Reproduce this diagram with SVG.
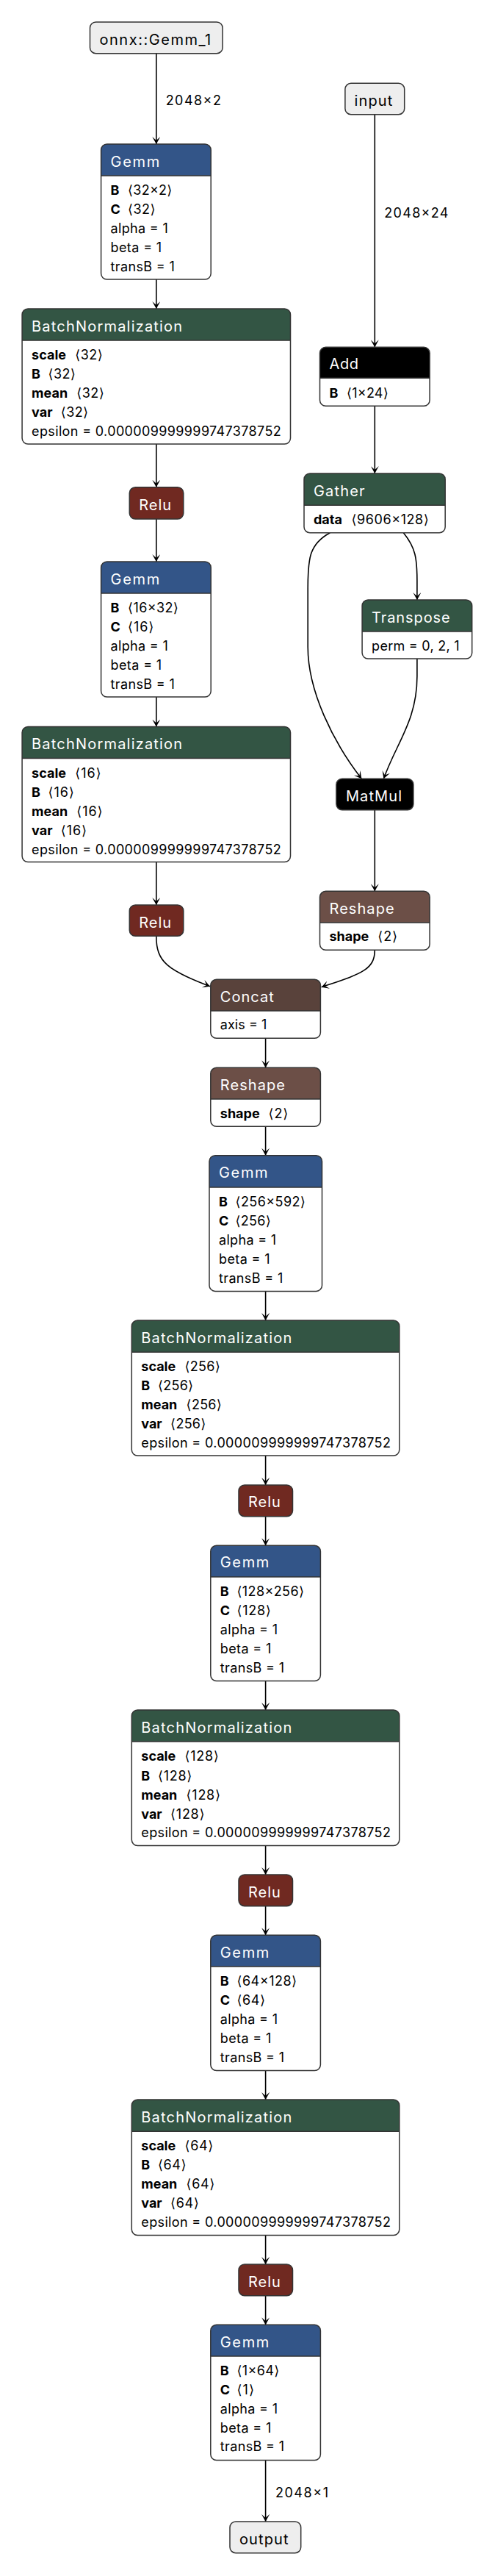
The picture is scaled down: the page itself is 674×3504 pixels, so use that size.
<svg xmlns="http://www.w3.org/2000/svg" width="674" height="3504" viewBox="0 0 674 3504">
<style>
.bg{fill:#fff}
.body{fill:#fff;stroke:none}
.brd{fill:none;stroke:#333;stroke-width:1.5}
.sep{stroke:#333;stroke-width:1.5}
.io{fill:#eee;stroke:#333;stroke-width:1.5}
.layer{fill:#335588}
.norm{fill:#335544}
.act{fill:#702921}
.shape{fill:#6C4F47}
.tensor{fill:#59423B}
.def{fill:#000}
.ht{font-family:Inter,"Liberation Sans",sans-serif;font-size:20px;fill:#fff}
.it{font-family:Inter,"Liberation Sans",sans-serif;font-size:20px;fill:#000}
.at{font-family:Inter,"Liberation Sans","DejaVu Sans",sans-serif;font-size:18px;fill:#000}
.k{font-family:Inter,"Liberation Sans",sans-serif;font-size:18px;fill:#000;font-weight:bold}
.el{font-family:Inter,"Liberation Sans",sans-serif;font-size:18px;fill:#000}
.edge{fill:none;stroke:#000;stroke-width:1.6;marker-end:url(#arr)}
</style>
<defs>
<marker id="arr" markerUnits="userSpaceOnUse" viewBox="0 0 10 11" refX="10" refY="5.5" markerWidth="10" markerHeight="11" orient="auto">
<path d="M0,0 L10,5.5 L0,11 L5,5.5 Z" fill="#000"/>
</marker>
</defs>
<rect class="bg" x="0" y="0" width="674" height="3504"/>

<g id="edges">
<path class="edge" d="M212.8,72.7 V196"/>
<path class="edge" d="M212.8,380 V420"/>
<path class="edge" d="M212.8,604 V662.7"/>
<path class="edge" d="M212.8,706 V764"/>
<path class="edge" d="M212.8,948 V988.5"/>
<path class="edge" d="M212.8,1172.5 V1231"/>
<path class="edge" d="M212.8,1274 C212.8,1308 228,1320 285.9,1341.7"/>
<path class="edge" d="M510.3,155.7 V472.3"/>
<path class="edge" d="M510.3,552.3 V644"/>
<path class="edge" d="M549.4,724.7 C566,745 567.9,760 567.9,790 V816"/>
<path class="edge" d="M449.3,724.7 C421,740 419.2,760 419.2,800 V880 C419.2,940 453.5,1009.3 492.3,1059.3"/>
<path class="edge" d="M567.9,896 V920 C567.9,980 540,1010 522.4,1059.3"/>
<path class="edge" d="M510.3,1101.7 V1212.3"/>
<path class="edge" d="M510.3,1292.3 C510.3,1320 490,1325 437.7,1342.7"/>
<path class="edge" d="M361.6,1412.3 V1452.3"/>
<path class="edge" d="M361.6,1532.3 V1571.7"/>
<path class="edge" d="M361.6,1756.4 V1796"/>
<path class="edge" d="M361.6,1980 V2020"/>
<path class="edge" d="M361.6,2062.7 V2102.3"/>
<path class="edge" d="M361.6,2286.6 V2326"/>
<path class="edge" d="M361.6,2510.5 V2550"/>
<path class="edge" d="M361.6,2592.7 V2632.3"/>
<path class="edge" d="M361.6,2816.6 V2856"/>
<path class="edge" d="M361.6,3040.5 V3080"/>
<path class="edge" d="M361.6,3122.7 V3162.3"/>
<path class="edge" d="M361.6,3346.6 V3430"/>
<text class="el" x="225.7" y="142.7" textLength="75.2" lengthAdjust="spacing">2048×2</text>
<text class="el" x="523.2" y="296" textLength="87.3" lengthAdjust="spacing">2048×24</text>
<text class="el" x="374.9" y="3396.7" textLength="72.2" lengthAdjust="spacing">2048×1</text>
</g>

<g id="node-onnx-gemm-1">
<rect class="io" x="122.5" y="30" width="180.6" height="42.7" rx="8"/>
<text class="it" x="135.4" y="61" textLength="151.8" lengthAdjust="spacing">onnx::Gemm_1</text>
</g>

<g id="node-input">
<rect class="io" x="469.9" y="113.3" width="80.8" height="42.4" rx="8"/>
<text class="it" x="482.4" y="144" textLength="52" lengthAdjust="spacing">input</text>
</g>

<g id="node-gemm-1" transform="translate(137.6,196)">
<rect class="body" width="149.6" height="184" rx="8"/>
<path class="layer" d="M0,43 V8 A8,8 0 0 1 8,0 H141.6 A8,8 0 0 1 149.6,8 V43 Z"/>
<line class="sep" x1="0" y1="43" x2="149.6" y2="43"/>
<rect class="brd" width="149.6" height="184" rx="8"/>
<text class="ht" x="13" y="30.7" textLength="66.6" lengthAdjust="spacing">Gemm</text>
<text class="k" x="13" y="69">B</text><text class="at" x="36.5" y="69" textLength="60.2" lengthAdjust="spacing">⟨32×2⟩</text>
<text class="k" x="13" y="95">C</text><text class="at" x="36.5" y="95" textLength="37.4" lengthAdjust="spacing">⟨32⟩</text>
<text class="at" x="13" y="121" textLength="78.2" lengthAdjust="spacing">alpha = 1</text>
<text class="at" x="13" y="147" textLength="69.6" lengthAdjust="spacing">beta = 1</text>
<text class="at" x="13" y="173" textLength="87.3" lengthAdjust="spacing">transB = 1</text>
</g>

<g id="node-batchnorm-1" transform="translate(30.1,420)">
<rect class="body" width="365.4" height="184" rx="8"/>
<path class="norm" d="M0,43 V8 A8,8 0 0 1 8,0 H357.4 A8,8 0 0 1 365.4,8 V43 Z"/>
<line class="sep" x1="0" y1="43" x2="365.4" y2="43"/>
<rect class="brd" width="365.4" height="184" rx="8"/>
<text class="ht" x="13" y="30.7" textLength="205" lengthAdjust="spacing">BatchNormalization</text>
<text class="k" x="13" y="69">scale</text><text class="at" x="72.2" y="69" textLength="37.4" lengthAdjust="spacing">⟨32⟩</text>
<text class="k" x="13" y="95">B</text><text class="at" x="35.4" y="95" textLength="37.4" lengthAdjust="spacing">⟨32⟩</text>
<text class="k" x="13" y="121">mean</text><text class="at" x="74.2" y="121" textLength="37.4" lengthAdjust="spacing">⟨32⟩</text>
<text class="k" x="13" y="147">var</text><text class="at" x="52.6" y="147" textLength="37.4" lengthAdjust="spacing">⟨32⟩</text>
<text class="at" x="13" y="173" textLength="339.6" lengthAdjust="spacing">epsilon = 0.000009999999747378752</text>
</g>

<g id="node-relu-1" transform="translate(176.3,662.7)">
<rect class="act" width="73.5" height="43.3" rx="8"/>
<rect class="brd" width="73.5" height="43.3" rx="8"/>
<text class="ht" x="13" y="31.3" textLength="43.8" lengthAdjust="spacing">Relu</text>
</g>

<g id="node-gemm-2" transform="translate(137.6,764)">
<rect class="body" width="149.6" height="184" rx="8"/>
<path class="layer" d="M0,43 V8 A8,8 0 0 1 8,0 H141.6 A8,8 0 0 1 149.6,8 V43 Z"/>
<line class="sep" x1="0" y1="43" x2="149.6" y2="43"/>
<rect class="brd" width="149.6" height="184" rx="8"/>
<text class="ht" x="13" y="30.7" textLength="66.6" lengthAdjust="spacing">Gemm</text>
<text class="k" x="13" y="69">B</text><text class="at" x="36.5" y="69" textLength="68.8" lengthAdjust="spacing">⟨16×32⟩</text>
<text class="k" x="13" y="95">C</text><text class="at" x="36.5" y="95" textLength="35.3" lengthAdjust="spacing">⟨16⟩</text>
<text class="at" x="13" y="121" textLength="78.2" lengthAdjust="spacing">alpha = 1</text>
<text class="at" x="13" y="147" textLength="69.6" lengthAdjust="spacing">beta = 1</text>
<text class="at" x="13" y="173" textLength="87.3" lengthAdjust="spacing">transB = 1</text>
</g>

<g id="node-batchnorm-2" transform="translate(30.1,988.5)">
<rect class="body" width="365.4" height="184" rx="8"/>
<path class="norm" d="M0,43 V8 A8,8 0 0 1 8,0 H357.4 A8,8 0 0 1 365.4,8 V43 Z"/>
<line class="sep" x1="0" y1="43" x2="365.4" y2="43"/>
<rect class="brd" width="365.4" height="184" rx="8"/>
<text class="ht" x="13" y="30.7" textLength="205" lengthAdjust="spacing">BatchNormalization</text>
<text class="k" x="13" y="69">scale</text><text class="at" x="72.2" y="69" textLength="35.3" lengthAdjust="spacing">⟨16⟩</text>
<text class="k" x="13" y="95">B</text><text class="at" x="35.4" y="95" textLength="35.3" lengthAdjust="spacing">⟨16⟩</text>
<text class="k" x="13" y="121">mean</text><text class="at" x="74.2" y="121" textLength="35.3" lengthAdjust="spacing">⟨16⟩</text>
<text class="k" x="13" y="147">var</text><text class="at" x="52.6" y="147" textLength="35.3" lengthAdjust="spacing">⟨16⟩</text>
<text class="at" x="13" y="173" textLength="339.6" lengthAdjust="spacing">epsilon = 0.000009999999747378752</text>
</g>

<g id="node-relu-2" transform="translate(176.3,1231)">
<rect class="act" width="73.5" height="42.3" rx="8"/>
<rect class="brd" width="73.5" height="42.3" rx="8"/>
<text class="ht" x="13" y="30.7" textLength="43.8" lengthAdjust="spacing">Relu</text>
</g>

<g id="node-add" transform="translate(435.5,472.3)">
<rect class="body" width="149.6" height="80" rx="8"/>
<path class="def" d="M0,42 V8 A8,8 0 0 1 8,0 H141.6 A8,8 0 0 1 149.6,8 V42 Z"/>
<line class="sep" x1="0" y1="42" x2="149.6" y2="42"/>
<rect class="brd" width="149.6" height="80" rx="8"/>
<text class="ht" x="13" y="30" textLength="39.6" lengthAdjust="spacing">Add</text>
<text class="k" x="13" y="68.4">B</text><text class="at" x="36.5" y="68.4" textLength="56.7" lengthAdjust="spacing">⟨1×24⟩</text>
</g>

<g id="node-gather" transform="translate(414,644)">
<rect class="body" width="192.2" height="80.7" rx="8"/>
<path class="norm" d="M0,43.3 V8 A8,8 0 0 1 8,0 H184.2 A8,8 0 0 1 192.2,8 V43.3 Z"/>
<line class="sep" x1="0" y1="43.3" x2="192.2" y2="43.3"/>
<rect class="brd" width="192.2" height="80.7" rx="8"/>
<text class="ht" x="13" y="31" textLength="69.6" lengthAdjust="spacing">Gather</text>
<text class="k" x="13" y="69.3">data</text><text class="at" x="64.5" y="69.3" textLength="105.3" lengthAdjust="spacing">⟨9606×128⟩</text>
</g>

<g id="node-transpose" transform="translate(493.1,816)">
<rect class="body" width="149.6" height="80" rx="8"/>
<path class="norm" d="M0,43 V8 A8,8 0 0 1 8,0 H141.6 A8,8 0 0 1 149.6,8 V43 Z"/>
<line class="sep" x1="0" y1="43" x2="149.6" y2="43"/>
<rect class="brd" width="149.6" height="80" rx="8"/>
<text class="ht" x="13" y="30.7" textLength="106.6" lengthAdjust="spacing">Transpose</text>
<text class="at" x="13" y="69" textLength="119.5" lengthAdjust="spacing">perm = 0, 2, 1</text>
</g>

<g id="node-matmul" transform="translate(457.9,1059.3)">
<rect class="def" width="105" height="42.4" rx="8"/>
<rect class="brd" width="105" height="42.4" rx="8"/>
<text class="ht" x="13" y="30.7" textLength="76.1" lengthAdjust="spacing">MatMul</text>
</g>

<g id="node-reshape-1" transform="translate(435.5,1212.3)">
<rect class="body" width="149.6" height="80" rx="8"/>
<path class="shape" d="M0,42.7 V8 A8,8 0 0 1 8,0 H141.6 A8,8 0 0 1 149.6,8 V42.7 Z"/>
<line class="sep" x1="0" y1="42.7" x2="149.6" y2="42.7"/>
<rect class="brd" width="149.6" height="80" rx="8"/>
<text class="ht" x="13" y="30.4" textLength="88.1" lengthAdjust="spacing">Reshape</text>
<text class="k" x="13" y="67.7">shape</text><text class="at" x="78.8" y="67.7" textLength="26.7" lengthAdjust="spacing">⟨2⟩</text>
</g>

<g id="node-concat" transform="translate(286.8,1332.3)">
<rect class="body" width="149.6" height="80" rx="8"/>
<path class="tensor" d="M0,42.7 V8 A8,8 0 0 1 8,0 H141.6 A8,8 0 0 1 149.6,8 V42.7 Z"/>
<line class="sep" x1="0" y1="42.7" x2="149.6" y2="42.7"/>
<rect class="brd" width="149.6" height="80" rx="8"/>
<text class="ht" x="13" y="30.4" textLength="73" lengthAdjust="spacing">Concat</text>
<text class="at" x="13" y="67.7" textLength="63.6" lengthAdjust="spacing">axis = 1</text>
</g>

<g id="node-reshape-2" transform="translate(286.8,1452.3)">
<rect class="body" width="149.6" height="80" rx="8"/>
<path class="shape" d="M0,42.7 V8 A8,8 0 0 1 8,0 H141.6 A8,8 0 0 1 149.6,8 V42.7 Z"/>
<line class="sep" x1="0" y1="42.7" x2="149.6" y2="42.7"/>
<rect class="brd" width="149.6" height="80" rx="8"/>
<text class="ht" x="13" y="30.4" textLength="88.1" lengthAdjust="spacing">Reshape</text>
<text class="k" x="13" y="68.4">shape</text><text class="at" x="78.8" y="68.4" textLength="26.7" lengthAdjust="spacing">⟨2⟩</text>
</g>

<g id="node-gemm-3" transform="translate(285,1571.7)">
<rect class="body" width="153.5" height="184.7" rx="8"/>
<path class="layer" d="M0,43.3 V8 A8,8 0 0 1 8,0 H145.5 A8,8 0 0 1 153.5,8 V43.3 Z"/>
<line class="sep" x1="0" y1="43.3" x2="153.5" y2="43.3"/>
<rect class="brd" width="153.5" height="184.7" rx="8"/>
<text class="ht" x="13" y="30" textLength="66.6" lengthAdjust="spacing">Gemm</text>
<text class="k" x="13" y="69">B</text><text class="at" x="35.5" y="69" textLength="95.4" lengthAdjust="spacing">⟨256×592⟩</text>
<text class="k" x="13" y="95">C</text><text class="at" x="35.5" y="95" textLength="48.2" lengthAdjust="spacing">⟨256⟩</text>
<text class="at" x="13" y="121" textLength="78.2" lengthAdjust="spacing">alpha = 1</text>
<text class="at" x="13" y="147" textLength="69.6" lengthAdjust="spacing">beta = 1</text>
<text class="at" x="13" y="173" textLength="87.3" lengthAdjust="spacing">transB = 1</text>
</g>

<g id="node-batchnorm-3" transform="translate(179.3,1796)">
<rect class="body" width="364.5" height="184" rx="8"/>
<path class="norm" d="M0,43.3 V8 A8,8 0 0 1 8,0 H356.5 A8,8 0 0 1 364.5,8 V43.3 Z"/>
<line class="sep" x1="0" y1="43.3" x2="364.5" y2="43.3"/>
<rect class="brd" width="364.5" height="184" rx="8"/>
<text class="ht" x="13" y="30.7" textLength="205" lengthAdjust="spacing">BatchNormalization</text>
<text class="k" x="13" y="69">scale</text><text class="at" x="72.2" y="69" textLength="48.2" lengthAdjust="spacing">⟨256⟩</text>
<text class="k" x="13" y="95">B</text><text class="at" x="35.6" y="95" textLength="48.2" lengthAdjust="spacing">⟨256⟩</text>
<text class="k" x="13" y="121">mean</text><text class="at" x="74.3" y="121" textLength="48.2" lengthAdjust="spacing">⟨256⟩</text>
<text class="k" x="13" y="147">var</text><text class="at" x="52.8" y="147" textLength="48.2" lengthAdjust="spacing">⟨256⟩</text>
<text class="at" x="13" y="173" textLength="339.6" lengthAdjust="spacing">epsilon = 0.000009999999747378752</text>
</g>

<g id="node-relu-3" transform="translate(325,2020)">
<rect class="act" width="73.5" height="42.7" rx="8"/>
<rect class="brd" width="73.5" height="42.7" rx="8"/>
<text class="ht" x="13" y="30" textLength="43.8" lengthAdjust="spacing">Relu</text>
</g>

<g id="node-gemm-4" transform="translate(286.8,2102.3)">
<rect class="body" width="149.6" height="184.3" rx="8"/>
<path class="layer" d="M0,42.7 V8 A8,8 0 0 1 8,0 H141.6 A8,8 0 0 1 149.6,8 V42.7 Z"/>
<line class="sep" x1="0" y1="42.7" x2="149.6" y2="42.7"/>
<rect class="brd" width="149.6" height="184.3" rx="8"/>
<text class="ht" x="13" y="30" textLength="66.6" lengthAdjust="spacing">Gemm</text>
<text class="k" x="13" y="68.4">B</text><text class="at" x="35.6" y="68.4" textLength="91.6" lengthAdjust="spacing">⟨128×256⟩</text>
<text class="k" x="13" y="94.4">C</text><text class="at" x="35.6" y="94.4" textLength="46.4" lengthAdjust="spacing">⟨128⟩</text>
<text class="at" x="13" y="120.4" textLength="78.2" lengthAdjust="spacing">alpha = 1</text>
<text class="at" x="13" y="146.4" textLength="69.6" lengthAdjust="spacing">beta = 1</text>
<text class="at" x="13" y="172.4" textLength="87.3" lengthAdjust="spacing">transB = 1</text>
</g>

<g id="node-batchnorm-4" transform="translate(179.3,2326)">
<rect class="body" width="364.5" height="184.5" rx="8"/>
<path class="norm" d="M0,43 V8 A8,8 0 0 1 8,0 H356.5 A8,8 0 0 1 364.5,8 V43 Z"/>
<line class="sep" x1="0" y1="43" x2="364.5" y2="43"/>
<rect class="brd" width="364.5" height="184.5" rx="8"/>
<text class="ht" x="13" y="30.7" textLength="205" lengthAdjust="spacing">BatchNormalization</text>
<text class="k" x="13" y="69">scale</text><text class="at" x="72.2" y="69" textLength="46.4" lengthAdjust="spacing">⟨128⟩</text>
<text class="k" x="13" y="95.5">B</text><text class="at" x="35.6" y="95.5" textLength="46.4" lengthAdjust="spacing">⟨128⟩</text>
<text class="k" x="13" y="121.5">mean</text><text class="at" x="74.3" y="121.5" textLength="46.4" lengthAdjust="spacing">⟨128⟩</text>
<text class="k" x="13" y="147.5">var</text><text class="at" x="52.8" y="147.5" textLength="46.4" lengthAdjust="spacing">⟨128⟩</text>
<text class="at" x="13" y="173.3" textLength="339.6" lengthAdjust="spacing">epsilon = 0.000009999999747378752</text>
</g>

<g id="node-relu-4" transform="translate(325,2550)">
<rect class="act" width="73.5" height="42.7" rx="8"/>
<rect class="brd" width="73.5" height="42.7" rx="8"/>
<text class="ht" x="13" y="31" textLength="43.8" lengthAdjust="spacing">Relu</text>
</g>

<g id="node-gemm-5" transform="translate(286.8,2632.3)">
<rect class="body" width="149.6" height="184.3" rx="8"/>
<path class="layer" d="M0,42.7 V8 A8,8 0 0 1 8,0 H141.6 A8,8 0 0 1 149.6,8 V42.7 Z"/>
<line class="sep" x1="0" y1="42.7" x2="149.6" y2="42.7"/>
<rect class="brd" width="149.6" height="184.3" rx="8"/>
<text class="ht" x="13" y="31" textLength="66.6" lengthAdjust="spacing">Gemm</text>
<text class="k" x="13" y="68.4">B</text><text class="at" x="35.6" y="68.4" textLength="81.7" lengthAdjust="spacing">⟨64×128⟩</text>
<text class="k" x="13" y="94.4">C</text><text class="at" x="35.6" y="94.4" textLength="38.7" lengthAdjust="spacing">⟨64⟩</text>
<text class="at" x="13" y="120.4" textLength="78.2" lengthAdjust="spacing">alpha = 1</text>
<text class="at" x="13" y="146.4" textLength="69.6" lengthAdjust="spacing">beta = 1</text>
<text class="at" x="13" y="172.4" textLength="87.3" lengthAdjust="spacing">transB = 1</text>
</g>

<g id="node-batchnorm-5" transform="translate(179.3,2856)">
<rect class="body" width="364.5" height="184.5" rx="8"/>
<path class="norm" d="M0,43.3 V8 A8,8 0 0 1 8,0 H356.5 A8,8 0 0 1 364.5,8 V43.3 Z"/>
<line class="sep" x1="0" y1="43.3" x2="364.5" y2="43.3"/>
<rect class="brd" width="364.5" height="184.5" rx="8"/>
<text class="ht" x="13" y="30.7" textLength="205" lengthAdjust="spacing">BatchNormalization</text>
<text class="k" x="13" y="69">scale</text><text class="at" x="72.2" y="69" textLength="38.7" lengthAdjust="spacing">⟨64⟩</text>
<text class="k" x="13" y="95">B</text><text class="at" x="35.6" y="95" textLength="38.7" lengthAdjust="spacing">⟨64⟩</text>
<text class="k" x="13" y="121">mean</text><text class="at" x="74.3" y="121" textLength="38.7" lengthAdjust="spacing">⟨64⟩</text>
<text class="k" x="13" y="147">var</text><text class="at" x="52.8" y="147" textLength="38.7" lengthAdjust="spacing">⟨64⟩</text>
<text class="at" x="13" y="173" textLength="339.6" lengthAdjust="spacing">epsilon = 0.000009999999747378752</text>
</g>

<g id="node-relu-5" transform="translate(325,3080)">
<rect class="act" width="73.5" height="42.7" rx="8"/>
<rect class="brd" width="73.5" height="42.7" rx="8"/>
<text class="ht" x="13" y="30.7" textLength="43.8" lengthAdjust="spacing">Relu</text>
</g>

<g id="node-gemm-6" transform="translate(286.8,3162.3)">
<rect class="body" width="149.6" height="184.3" rx="8"/>
<path class="layer" d="M0,42.7 V8 A8,8 0 0 1 8,0 H141.6 A8,8 0 0 1 149.6,8 V42.7 Z"/>
<line class="sep" x1="0" y1="42.7" x2="149.6" y2="42.7"/>
<rect class="brd" width="149.6" height="184.3" rx="8"/>
<text class="ht" x="13" y="30.4" textLength="66.6" lengthAdjust="spacing">Gemm</text>
<text class="k" x="13" y="68.7">B</text><text class="at" x="35.6" y="68.7" textLength="58" lengthAdjust="spacing">⟨1×64⟩</text>
<text class="k" x="13" y="94.7">C</text><text class="at" x="35.6" y="94.7" textLength="23.6" lengthAdjust="spacing">⟨1⟩</text>
<text class="at" x="13" y="120.7" textLength="78.2" lengthAdjust="spacing">alpha = 1</text>
<text class="at" x="13" y="146.7" textLength="69.6" lengthAdjust="spacing">beta = 1</text>
<text class="at" x="13" y="172" textLength="87.3" lengthAdjust="spacing">transB = 1</text>
</g>

<g id="node-output">
<rect class="io" x="313" y="3430" width="96.7" height="42.7" rx="8"/>
<text class="it" x="325.9" y="3461" textLength="66.6" lengthAdjust="spacing">output</text>
</g>
</svg>
